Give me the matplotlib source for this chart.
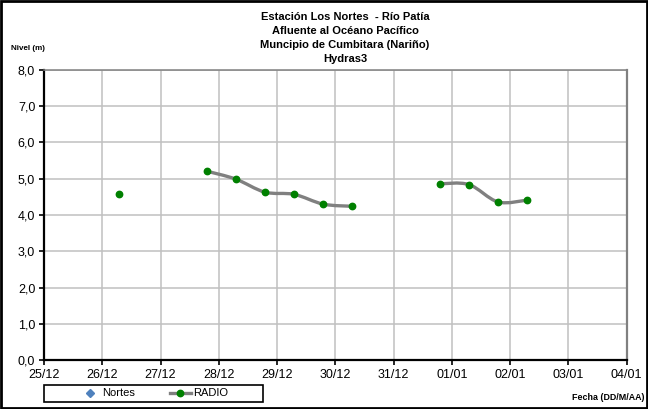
import numpy as np
import pandas as pd
import matplotlib
matplotlib.use("Agg")
import matplotlib.pyplot as plt
import matplotlib.dates as mdates
from matplotlib.path import Path
from matplotlib.patches import PathPatch, Rectangle
from matplotlib.lines import Line2D

plt.rcParams["font.family"] = ["Liberation Sans", "DejaVu Sans"]

# Level readings (m), one every 12 hours; NaN where no reading was received
times = pd.to_datetime([
    "2010-12-26 07:00", "2010-12-26 19:00", "2010-12-27 07:00", "2010-12-27 19:00",
    "2010-12-28 07:00", "2010-12-28 19:00", "2010-12-29 07:00", "2010-12-29 19:00",
    "2010-12-30 07:00", "2010-12-30 19:00", "2010-12-31 07:00", "2010-12-31 19:00",
    "2011-01-01 07:00", "2011-01-01 19:00", "2011-01-02 07:00",
])
radio = [4.58, np.nan, np.nan, 5.21, 4.99, 4.63, 4.57, 4.30, 4.24,
         np.nan, np.nan, 4.86, 4.84, 4.36, 4.41]
nortes = []  # no readings from the Nortes gauge in this period

tick_dates = pd.date_range("2010-12-25", "2011-01-04", freq="D")
tick_labels = [d.strftime("%d/%m") for d in tick_dates]
y_ticks = list(range(0, 9))
y_labels = [f"{v},0" for v in y_ticks]

title_lines = ["Estación Los Nortes  - Río Patía",
               "Afluente al Océano Pacífico",
               "Muncipio de Cumbitara (Nariño)",
               "Hydras3"]

W, H = 648, 409
fig = plt.figure(figsize=(W / 100, H / 100), dpi=100)
ax = fig.add_axes([44 / W, 1 - 360 / H, (626.7 - 44) / W, (360 - 70) / H])

x = mdates.date2num(times)
y = np.array(radio, dtype=float)


def smooth_path(xs, ys):
    """Bezier path through the points (Catmull-Rom style smoothing)."""
    pts = np.column_stack([xs, ys])
    verts = [pts[0]]
    codes = [Path.MOVETO]
    n = len(pts)
    for i in range(n - 1):
        p0 = pts[i - 1] if i > 0 else pts[i]
        p1 = pts[i]
        p2 = pts[i + 1]
        p3 = pts[i + 2] if i + 2 < n else pts[i + 1]
        c1 = p1 + (p2 - p0) / 6.0
        c2 = p2 - (p3 - p1) / 6.0
        verts += [c1, c2, p2]
        codes += [Path.CURVE4] * 3
    return Path(verts, codes)


# draw each contiguous run of readings as a smoothed gray line
valid = ~np.isnan(y)
start = None
for i in range(len(y) + 1):
    ok = i < len(y) and valid[i]
    if ok and start is None:
        start = i
    elif not ok and start is not None:
        if i - start >= 2:
            ax.add_patch(PathPatch(smooth_path(x[start:i], y[start:i]),
                                   facecolor="none", edgecolor="#808080",
                                   linewidth=2.4, zorder=3, capstyle="butt"))
        start = None

ax.plot(x, y, linestyle="none", marker="o", markersize=4.6,
        markerfacecolor="#008000", markeredgecolor="#008000", zorder=4)

ax.set_xlim(mdates.date2num(tick_dates[0]), mdates.date2num(tick_dates[-1]))
ax.set_ylim(0, 8)
ax.set_xticks(mdates.date2num(tick_dates))
ax.set_xticklabels(tick_labels, fontsize=9)
ax.set_yticks(y_ticks)
ax.set_yticklabels(y_labels, fontsize=9)

ax.grid(True, color="#c0c0c0", linewidth=1.1)
ax.set_axisbelow(True)
ax.tick_params(axis="both", direction="out", length=3.8, width=1.2,
               color="black", pad=2.5)
for side in ("left", "bottom"):
    ax.spines[side].set_color("black")
    ax.spines[side].set_linewidth(1.6)
ax.spines["top"].set_color("#808080")
ax.spines["top"].set_linewidth(1.1)
ax.spines["right"].set_color("#808080")
ax.spines["right"].set_linewidth(1.6)

# titles and axis captions
for k, line in enumerate(title_lines):
    fig.text(345 / W, 1 - (17 + 14 * k) / H, line, ha="center", va="center",
             fontsize=8, fontweight="bold")
fig.text(11 / W, 1 - 49 / H, "Nivel (m)", ha="left", va="center",
         fontsize=5.8, fontweight="bold")
fig.text(644 / W, 1 - 397 / H, "Fecha (DD/M/AA)", ha="right", va="center",
         fontsize=6.4, fontweight="bold")

# legend: entries centred inside a plain black box
handles = [
    Line2D([], [], linestyle="none", marker="D", markersize=4.5,
           markerfacecolor="#4F81BD", markeredgecolor="#4F81BD"),
    Line2D([], [], color="#808080", linewidth=2.4, marker="o", markersize=4.6,
           markerfacecolor="#008000", markeredgecolor="#008000"),
]
fig.legend(handles, ["Nortes", "RADIO"], loc="center",
           bbox_to_anchor=(153.5 / W, 1 - 393.5 / H),
           ncol=2, fontsize=8, frameon=False, borderpad=0,
           handlelength=1.95, handletextpad=0.15, borderaxespad=0,
           columnspacing=3.1)
fig.patches.append(Rectangle((44 / W, 1 - 402 / H), 219 / W, 17 / H,
                             transform=fig.transFigure, fill=False,
                             edgecolor="black", linewidth=1.2))

# outer frame of the figure
fig.patches.append(Rectangle((0.002, 0.003), 0.996, 0.994, transform=fig.transFigure,
                             fill=False, edgecolor="black", linewidth=2.0))

fig.savefig("out.png", dpi=100)
